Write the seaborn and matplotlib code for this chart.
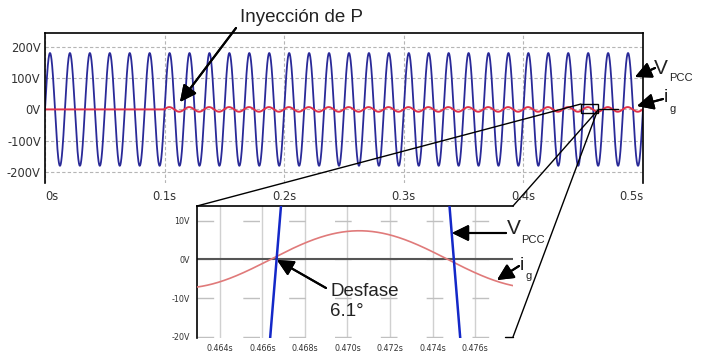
import numpy as np
import pandas as pd
import seaborn as sns
import matplotlib.pyplot as plt
from matplotlib.lines import Line2D
from matplotlib.patches import Rectangle

# ---- values ----
freq_hz = 60.0          # 30 cycles in 0.5 s
v_amp = 180.0           # V_PCC peak
i_amp = 7.4             # i_g peak (inset)
phase_deg = 6.1         # current lead ("Desfase 6.1°")
t_inject = 0.1          # "Inyección de P"
t_end = 0.5

main_xticks = [0.0, 0.1, 0.2, 0.3, 0.4, 0.5]
main_xlabels = ['0s', '0.1s', '0.2s', '0.3s', '0.4s', '0.5s']
main_yticks = [200, 100, 0, -100, -200]
main_ylabels = ['200V', '100V', '0V', '-100V', '-200V']

inset_xticks = [0.464, 0.466, 0.468, 0.470, 0.472, 0.474, 0.476]
inset_xlabels = ['0.464s', '0.466s', '0.468s', '0.470s', '0.472s', '0.474s', '0.476s']
inset_yticks = [10, 0, -10, -20]
inset_ylabels = ['10V', '0V', '-10V', '-20V']

zoom_t = [0.4482, 0.4624]   # small rectangle on the main chart
zoom_v = [-10, 18]

# ---- signals ----
def signals(t):
    v = v_amp * np.sin(2 * np.pi * freq_hz * t)
    i = np.where(t >= t_inject,
                 i_amp * np.sin(2 * np.pi * freq_hz * t + np.deg2rad(phase_deg)), 0.0)
    return v, i

t_main = np.linspace(0, t_end, 50001)
v_main, i_main = signals(t_main)
df_main = pd.DataFrame({'t': t_main, 'v': v_main, 'i': i_main})

t_in = np.linspace(0.4625, 0.4780, 6001)
v_in, i_in = signals(t_in)
df_in = pd.DataFrame({'t': t_in, 'v': v_in, 'i': i_in})

sns.set_theme(style='white')
plt.rcParams['font.family'] = ['DejaVu Sans']

W, H = 705, 354
fig = plt.figure(figsize=(W / 100, H / 100), dpi=100)

def fx(x):
    return x / W

def fy(y):
    return 1 - y / H

# ---- main axes ----
ax = fig.add_axes([fx(45), fy(183), 598 / W, 150 / H])
sns.lineplot(data=df_main, x='t', y='v', ax=ax, color='#2a2a98', lw=1.3,
             estimator=None, sort=False)
sns.lineplot(data=df_main, x='t', y='i', ax=ax, color='#e0304a', lw=1.4,
             estimator=None, sort=False)
ax.set_xlim(0, t_end)
ax.set_ylim(-235, 244)
ax.set_xticks(main_xticks)
ax.set_xticklabels(main_xlabels, fontsize=8.3, color='#333333')
ax.set_yticks(main_yticks)
ax.set_yticklabels(main_ylabels, fontsize=8.3, color='#333333')
xl = ax.get_xticklabels()
xl[0].set_ha('left')
xl[-1].set_ha('right')
ax.tick_params(axis='both', length=0)
ax.tick_params(axis='x', pad=5)
ax.tick_params(axis='y', pad=3)
ax.set_xlabel('')
ax.set_ylabel('')
ax.grid(True, ls=(0, (3, 2)), color='#b5b5b5', lw=0.8)
for s in ['top', 'left', 'right']:
    ax.spines[s].set_visible(True)
    ax.spines[s].set_color('black')
    ax.spines[s].set_linewidth(1.2)
ax.spines['bottom'].set_visible(False)
ax.add_patch(Rectangle((zoom_t[0], zoom_v[0]), zoom_t[1] - zoom_t[0],
                       zoom_v[1] - zoom_v[0], fill=False, ec='black', lw=1.0, zorder=5))
ax.plot([zoom_t[1], 0.479], [0, 0], color='black', lw=1.0, zorder=5)

# ---- inset axes ----
axi = fig.add_axes([fx(197), fy(338), 316 / W, 132 / H])
axi.set_xlim(0.46293, 0.47778)
axi.set_ylim(-20.3, 13.8)
axi.xaxis.grid(True, color='#d0d0d0', lw=1.0, ls='-')
axi.yaxis.grid(True, color='#c0c0c0', lw=1.0, ls=(0, (12, 21)))
axi.axhline(0, color='#555555', lw=1.5, zorder=2)
sns.lineplot(data=df_in, x='t', y='i', ax=axi, color='#e07a7a', lw=1.2,
             estimator=None, sort=False, zorder=3)
sns.lineplot(data=df_in, x='t', y='v', ax=axi, color='#1428c8', lw=1.8,
             estimator=None, sort=False, zorder=4)
axi.set_xticks(inset_xticks)
axi.set_xticklabels(inset_xlabels, fontsize=5.8, color='#333333')
axi.set_yticks(inset_yticks)
axi.set_yticklabels(inset_ylabels, fontsize=5.8, color='#333333')
axi.tick_params(axis='both', length=0)
axi.tick_params(axis='x', pad=4)
axi.tick_params(axis='y', pad=5)
axi.set_xlabel('')
axi.set_ylabel('')
for s in ['top', 'left']:
    axi.spines[s].set_visible(True)
    axi.spines[s].set_color('black')
    axi.spines[s].set_linewidth(1.2)
for s in ['right', 'bottom']:
    axi.spines[s].set_visible(False)

# ---- connecting lines (image pixel positions) ----
for (x0, y0), (x1, y1) in [((197, 206), (581, 104)),
                           ((513, 206), (598, 110)),
                           ((505, 337), (513, 337)),
                           ((513, 337), (597, 112))]:
    fig.add_artist(Line2D([fx(x0), fx(x1)], [fy(y0), fy(y1)],
                          transform=fig.transFigure, color='black', lw=1.0))

# ---- annotations ----
font = ['Liberation Sans', 'DejaVu Sans']
tc = '#222222'
aprops = dict(arrowstyle='-|>,head_length=0.55,head_width=0.27', color='black',
              lw=1.5, shrinkA=0, shrinkB=0, mutation_scale=18)

def arrow(tail, tip):
    fig.add_artist(plt.annotate('', xy=(fx(tip[0]), fy(tip[1])), xycoords='figure fraction',
                                xytext=(fx(tail[0]), fy(tail[1])), textcoords='figure fraction',
                                arrowprops=aprops))

def label(x, y, s, size):
    fig.text(fx(x), fy(y), s, ha='left', va='center', fontsize=size,
             family=font, color=tc)

arrow((236, 28), (180, 102))
label(240, 17, 'Inyección de P', 13.5)

arrow((655, 68), (635, 77))
label(654, 68, 'V', 15)
label(669, 78, 'PCC', 8)
arrow((663, 99), (637, 106))
label(664, 98, 'i', 14)
label(669, 109, 'g', 8)

arrow((506, 233), (452, 233))
label(507, 229, 'V', 15)
label(521, 240, 'PCC', 8)
arrow((519, 266), (497, 280))
label(520, 265, 'i', 14)
label(525, 276, 'g', 8)

arrow((326, 288), (277, 260))
label(330, 292, 'Desfase', 13.5)
label(330, 312, '6.1°', 13.5)

fig.savefig('out.png', dpi=100)
